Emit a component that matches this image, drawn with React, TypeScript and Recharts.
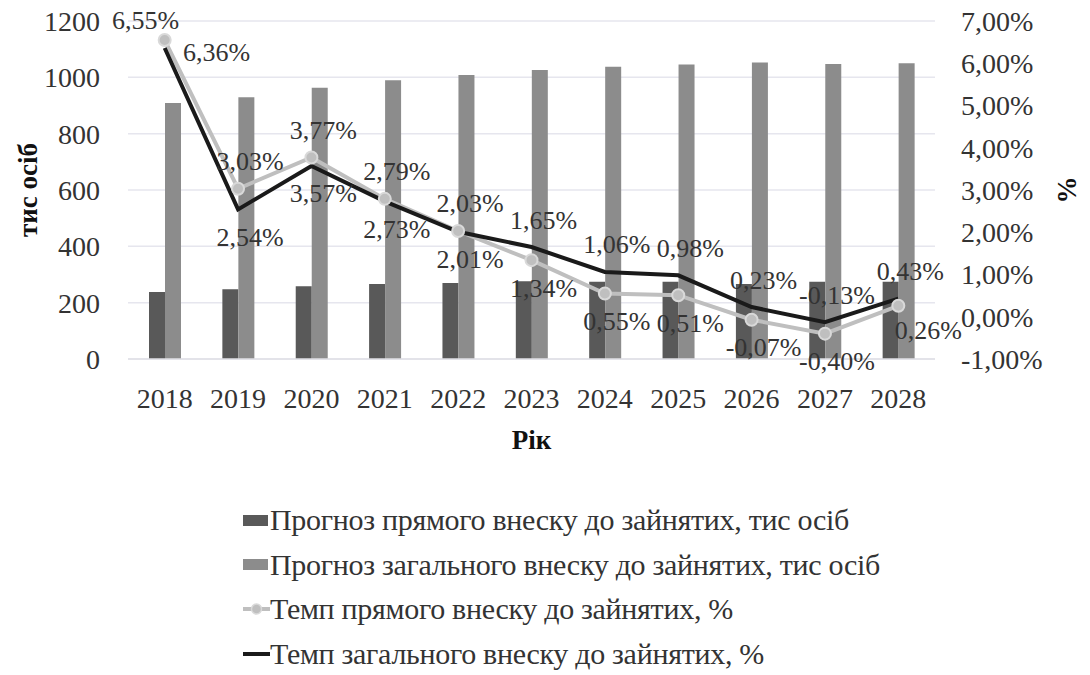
import React from "react";
import {
  ComposedChart,
  Bar,
  Line,
  XAxis,
  YAxis,
  CartesianGrid,
  Legend,
  LabelList,
} from "recharts";

const years = ["2018", "2019", "2020", "2021", "2022", "2023", "2024", "2025", "2026", "2027", "2028"];
const directForecast = [238, 248, 258, 266, 270, 276, 274, 274, 266, 274, 274];
const totalForecast = [909, 929, 963, 990, 1008, 1026, 1038, 1046, 1053, 1047, 1050];
const directRate = [6.55, 3.03, 3.77, 2.79, 2.03, 1.34, 0.55, 0.51, -0.07, -0.4, 0.26];
const totalRate = [6.36, 2.54, 3.57, 2.73, 2.01, 1.65, 1.06, 0.98, 0.23, -0.13, 0.43];
const leftTicks = [0, 200, 400, 600, 800, 1000, 1200];
const rightTicks = [-1, 0, 1, 2, 3, 4, 5, 6, 7];

const seriesNames = {
  direct: "Прогноз прямого внеску до зайнятих, тис осіб",
  total: "Прогноз загального внеску до зайнятих, тис осіб",
  directRate: "Темп прямого внеску до зайнятих, %",
  totalRate: "Темп загального внеску до зайнятих, %",
};

const data = years.map((year, i) => ({
  year,
  direct: directForecast[i],
  total: totalForecast[i],
  directRate: directRate[i],
  totalRate: totalRate[i],
}));

const FONT = "'Liberation Serif', 'Times New Roman', serif";
const TEXT = "#333";

const pct = (v: number) => `${v.toFixed(2).replace(".", ",")}%`;

// labels go above the higher of the two lines and below the lower one
const makeLabel = (own: number[], other: number[], kind: string) => (props: any) => {
  const { x, y, index } = props;
  const v = own[index];
  const above = v >= other[index];
  let dx = 12;
  let dy = above ? -27 : 28;
  if (index === 0 && kind === "direct") { dx = -19; dy = -20; }
  if (index === 0 && kind === "total") { dx = 52; dy = 4; }
  if (index === own.length - 1 && kind === "direct") { dx = 30; dy = 25; }
  return (
    <text
      x={x + dx}
      y={y + dy}
      textAnchor="middle"
      dominantBaseline="central"
      fontFamily={FONT}
      fontSize={26}
      fill={TEXT}
    >
      {pct(v)}
    </text>
  );
};

const LeftTitle = (props: any) => {
  const { viewBox } = props;
  const cy = viewBox.y + viewBox.height / 2;
  return (
    <text
      x={28}
      y={cy}
      transform={`rotate(-90, 28, ${cy})`}
      textAnchor="middle"
      dominantBaseline="central"
      fontFamily={FONT}
      fontSize={27}
      fontWeight="bold"
      fill="#111"
    >
      тис осіб
    </text>
  );
};

const RightTitle = (props: any) => {
  const { viewBox } = props;
  const cy = viewBox.y + viewBox.height / 2;
  const cx = 1067;
  return (
    <text
      x={cx}
      y={cy}
      transform={`rotate(-90, ${cx}, ${cy})`}
      textAnchor="middle"
      dominantBaseline="central"
      fontFamily={FONT}
      fontSize={27}
      fontWeight="bold"
      fill="#111"
    >
      %
    </text>
  );
};

const BottomTitle = (props: any) => {
  const { viewBox } = props;
  return (
    <text
      x={viewBox.x + viewBox.width / 2}
      y={viewBox.y + 90}
      textAnchor="middle"
      fontFamily={FONT}
      fontSize={27}
      fontWeight="bold"
      fill="#111"
    >
      Рік
    </text>
  );
};

const LegendBox = () => {
  const rows = [
    { key: "direct", icon: <div style={{ width: 25, height: 11, background: "#595959" }} /> },
    { key: "total", icon: <div style={{ width: 25, height: 11, background: "#8c8c8c" }} /> },
    {
      key: "directRate",
      icon: (
        <svg width={27} height={14}>
          <line x1={0} y1={7} x2={27} y2={7} stroke="#bfbfbf" strokeWidth={4} />
          <circle cx={13.5} cy={7} r={5} fill="#bfbfbf" stroke="#d9d9d9" strokeWidth={1.5} />
        </svg>
      ),
    },
    {
      key: "totalRate",
      icon: (
        <svg width={27} height={14}>
          <line x1={0} y1={7} x2={27} y2={7} stroke="#1a1a1a" strokeWidth={4} />
        </svg>
      ),
    },
  ];
  return (
    <div style={{ fontFamily: FONT, fontSize: 30, color: TEXT }}>
      {rows.map((r) => (
        <div key={r.key} style={{ display: "flex", alignItems: "center", height: 44.5 }}>
          <div style={{ width: 27, display: "flex", alignItems: "center" }}>{r.icon}</div>
          <span style={{ marginLeft: 0, whiteSpace: "nowrap", letterSpacing: -0.3 }}>
            {seriesNames[r.key as keyof typeof seriesNames]}
          </span>
        </div>
      ))}
    </div>
  );
};

export default function App() {
  return (
    <div style={{ position: "absolute", left: 0, top: 0, background: "#fff" }}>
      <ComposedChart
        width={1090}
        height={675}
        data={data}
        margin={{ top: 21, right: 0, bottom: 226, left: 0 }}
        barGap={0}
        style={{ fontFamily: FONT }}
      >
        <CartesianGrid vertical={false} stroke="#e6e6ee" strokeWidth={1.5} yAxisId="left" />
        <XAxis
          dataKey="year"
          height={90}
          tickSize={0}
          tickMargin={29}
          axisLine={{ stroke: "#e0e0e6", strokeWidth: 1.5 }}
          tick={{ fontSize: 28, fill: TEXT, fontFamily: FONT }}
          label={<BottomTitle />}
        />
        <YAxis
          yAxisId="left"
          width={128}
          domain={[0, 1200]}
          ticks={leftTicks}
          tickSize={0}
          tickMargin={28}
          axisLine={false}
          tick={{ fontSize: 28, fill: TEXT, fontFamily: FONT }}
          label={<LeftTitle />}
        />
        <YAxis
          yAxisId="right"
          orientation="right"
          width={155}
          domain={[-1, 7]}
          ticks={rightTicks}
          tickFormatter={pct}
          tickSize={0}
          tickMargin={26}
          axisLine={false}
          tick={{ fontSize: 28, fill: TEXT, fontFamily: FONT, textAnchor: "start" }}
          label={<RightTitle />}
        />
        <Bar yAxisId="left" dataKey="direct" name={seriesNames.direct} fill="#595959" barSize={16} isAnimationActive={false} />
        <Bar yAxisId="left" dataKey="total" name={seriesNames.total} fill="#8c8c8c" barSize={16} isAnimationActive={false} />
        <Line
          yAxisId="right"
          dataKey="directRate"
          name={seriesNames.directRate}
          stroke="#bfbfbf"
          strokeWidth={4}
          dot={{ r: 6, fill: "#bfbfbf", stroke: "#d9d9d9", strokeWidth: 2 }}
          isAnimationActive={false}
        >
          <LabelList dataKey="directRate" content={makeLabel(directRate, totalRate, "direct")} />
        </Line>
        <Line
          yAxisId="right"
          dataKey="totalRate"
          name={seriesNames.totalRate}
          stroke="#1a1a1a"
          strokeWidth={4}
          dot={false}
          isAnimationActive={false}
        >
          <LabelList dataKey="totalRate" content={makeLabel(totalRate, directRate, "total")} />
        </Line>
        <Legend
          layout="vertical"
          align="center"
          verticalAlign="middle"
          content={<LegendBox />}
          wrapperStyle={{ left: 243, top: 498, width: 800, height: 178 }}
        />
      </ComposedChart>
    </div>
  );
}
